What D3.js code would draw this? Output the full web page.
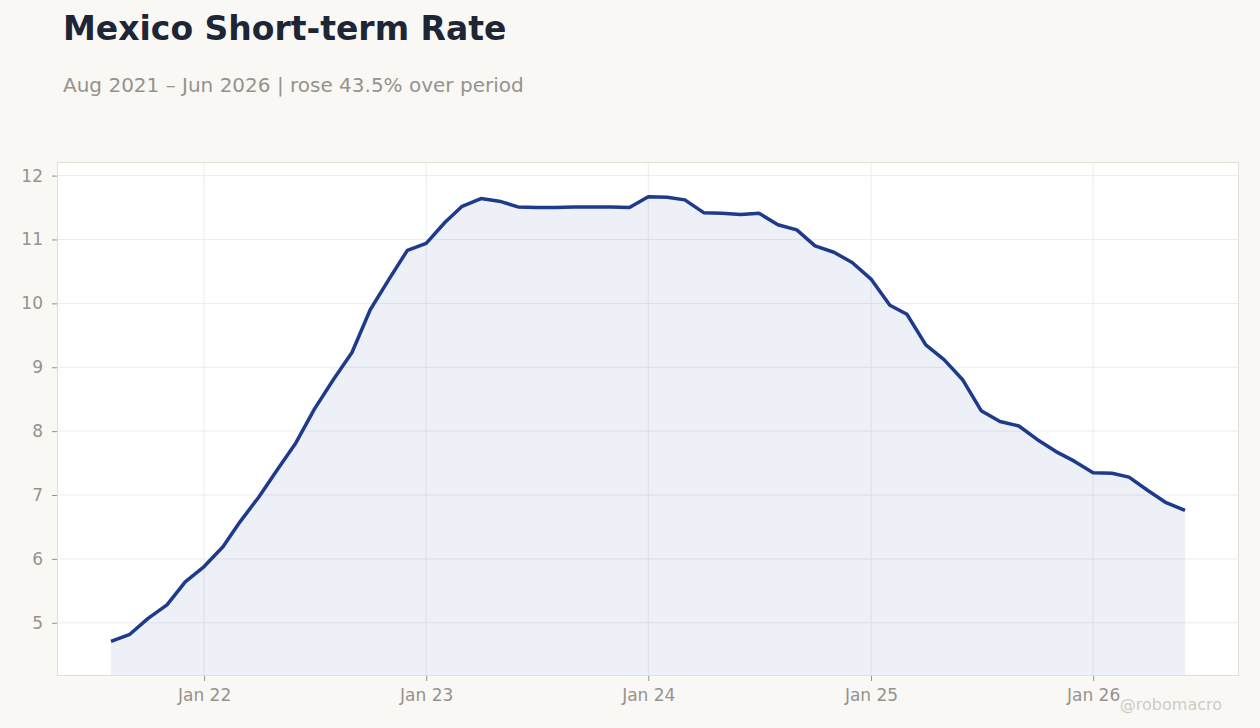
<!DOCTYPE html>
<html>
<head>
<meta charset="utf-8">
<script src="https://cdn.jsdelivr.net/npm/d3@7"></script>
<style>
  html, body { margin: 0; padding: 0; background: #f9f8f5; }
  body { font-family: "DejaVu Sans", sans-serif; }
  svg { display: block; }
</style>
</head>
<body>
<script>
const width = 1260,
      height = 728;

// monthly observations, Aug 2021 .. Jun 2026
const startMonth = "2021-08";
const rates = [
  4.71, 4.82, 5.07, 5.28, 5.64,
  5.88, 6.19, 6.58, 6.97, 7.39, 7.82, 8.34, 8.80, 9.23, 9.90, 10.38, 10.83,
  10.94, 11.27, 11.52, 11.64, 11.60, 11.51, 11.50, 11.50, 11.51, 11.51, 11.51, 11.50,
  11.67, 11.66, 11.62, 11.42, 11.41, 11.39, 11.41, 11.23, 11.15, 10.90, 10.80, 10.64,
  10.38, 9.97, 9.83, 9.35, 9.12, 8.80, 8.32, 8.15, 8.08, 7.87, 7.68, 7.53,
  7.35, 7.34, 7.28, 7.07, 6.88, 6.76
];
const yTicks = [5, 6, 7, 8, 9, 10, 11, 12];
const xTickYears = [2022, 2023, 2024, 2025, 2026];

const title = "Mexico Short-term Rate";
const credit = "@robomacro";

const parseMonth = d3.timeParse("%Y-%m");
const t0 = parseMonth(startMonth);
const data = rates.map((v, i) => ({date: d3.timeMonth.offset(t0, i), value: v}));

const first = data[0], last = data[data.length - 1];
const change = (last.value / first.value - 1) * 100;
const fmtMonth = d3.timeFormat("%b %Y");
const subtitle = `${fmtMonth(first.date)} – ${fmtMonth(last.date)} | ${change >= 0 ? "rose" : "fell"} ${Math.abs(change).toFixed(1)}% over period`;

const plot = {left: 57, top: 162, right: 1239, bottom: 676};
const xPad = 54;

const x = d3.scaleTime()
    .domain(d3.extent(data, d => d.date))
    .range([plot.left + xPad, plot.right - xPad]);

const [lo, hi] = d3.extent(data, d => d.value);
const pad = (hi - lo) * 0.078;
const y = d3.scaleLinear()
    .domain([lo - pad, hi + pad])
    .range([plot.bottom, plot.top]);

const lineColor = "#1e3a8a";
const textGray = "#97928d";

const svg = d3.select("body").append("svg")
    .attr("width", width)
    .attr("height", height);

svg.append("rect")
    .attr("width", width).attr("height", height)
    .attr("fill", "#f9f8f5");

svg.append("text")
    .attr("x", 63).attr("y", 40)
    .attr("font-size", 33)
    .attr("font-weight", "bold")
    .attr("fill", "#1e2636")
    .text(title);

svg.append("text")
    .attr("x", 63).attr("y", 92)
    .attr("font-size", 20)
    .attr("fill", textGray)
    .text(subtitle);

// plot frame
svg.append("rect")
    .attr("x", plot.left).attr("y", plot.top)
    .attr("width", plot.right - plot.left)
    .attr("height", plot.bottom - plot.top)
    .attr("fill", "#ffffff");

const xTicks = xTickYears.map(yr => new Date(yr, 0, 1));

// grid
svg.append("g")
  .selectAll("line")
  .data(yTicks)
  .enter().append("line")
    .attr("x1", plot.left).attr("x2", plot.right)
    .attr("y1", d => y(d)).attr("y2", d => y(d))
    .attr("stroke", "#ececec")
    .attr("stroke-width", 1);

svg.append("g")
  .selectAll("line")
  .data(xTicks)
  .enter().append("line")
    .attr("x1", d => x(d)).attr("x2", d => x(d))
    .attr("y1", plot.top).attr("y2", plot.bottom)
    .attr("stroke", "#ececec")
    .attr("stroke-width", 1);

// area + line
const area = d3.area()
    .x(d => x(d.date))
    .y0(plot.bottom)
    .y1(d => y(d.value));

const line = d3.line()
    .x(d => x(d.date))
    .y(d => y(d.value));

svg.append("path")
    .datum(data)
    .attr("d", area)
    .attr("fill", lineColor)
    .attr("fill-opacity", 0.08);

svg.append("path")
    .datum(data)
    .attr("d", line)
    .attr("fill", "none")
    .attr("stroke", lineColor)
    .attr("stroke-width", 3.5)
    .attr("stroke-linejoin", "round");

// frame border on top
svg.append("rect")
    .attr("x", plot.left + 0.5).attr("y", plot.top + 0.5)
    .attr("width", plot.right - plot.left - 1)
    .attr("height", plot.bottom - plot.top - 1)
    .attr("fill", "none")
    .attr("stroke", "#e3ded6")
    .attr("stroke-width", 1);

// axes
const xAxis = svg.append("g")
    .attr("transform", `translate(0,${plot.bottom})`)
    .call(d3.axisBottom(x)
      .tickValues(xTicks)
      .tickFormat(d3.timeFormat("Jan %y"))
      .tickSize(5)
      .tickPadding(8));

const yAxis = svg.append("g")
    .attr("transform", `translate(${plot.left},0)`)
    .call(d3.axisLeft(y)
      .tickValues(yTicks)
      .tickSize(5)
      .tickPadding(9));

[xAxis, yAxis].forEach(g => {
    g.select(".domain").remove();
    g.selectAll(".tick line").attr("stroke", "#97928d");
    g.selectAll(".tick text")
      .attr("fill", textGray)
      .attr("font-size", 17)
      .attr("font-family", "DejaVu Sans, sans-serif");
});

svg.append("text")
    .attr("x", 1222).attr("y", 710)
    .attr("text-anchor", "end")
    .attr("font-size", 16)
    .attr("fill", "#cfccc8")
    .text(credit);
</script>
</body>
</html>
